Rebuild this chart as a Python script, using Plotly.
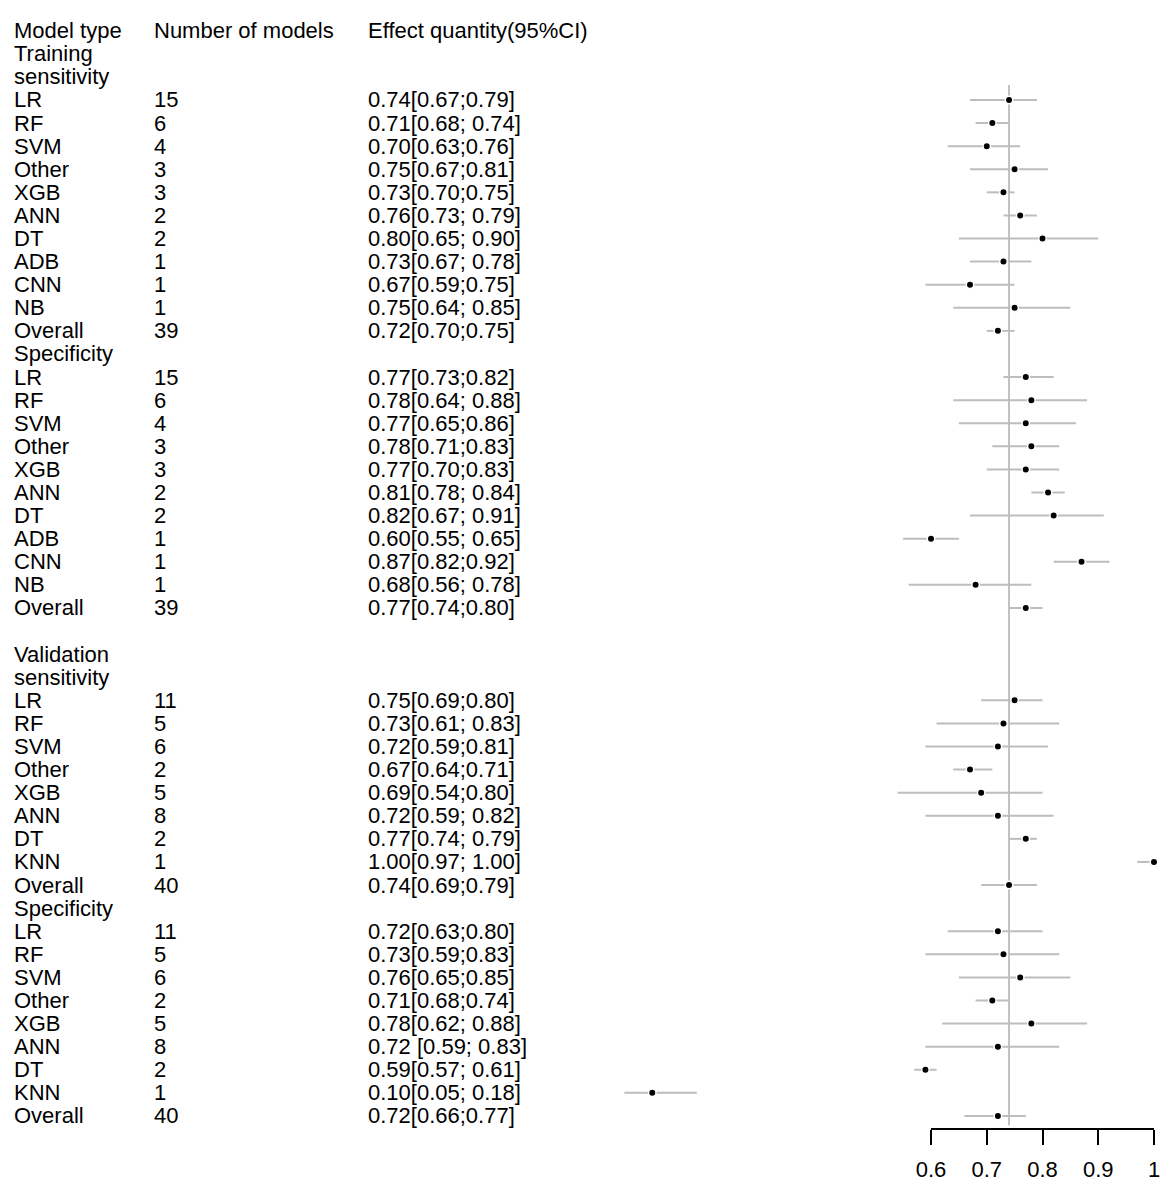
"""
Forest plot - pooled sensitivity / specificity by model type
(training and validation sets), Plotly re-draw.
"""

import plotly.graph_objects as go

# --- Data ---
TRAIN_MODELS = ["LR", "RF", "SVM", "Other", "XGB", "ANN", "DT", "ADB", "CNN", "NB", "Overall"]
TRAIN_N = [15, 6, 4, 3, 3, 2, 2, 1, 1, 1, 39]

TRAIN_SENS_EST = [0.74, 0.71, 0.70, 0.75, 0.73, 0.76, 0.80, 0.73, 0.67, 0.75, 0.72]
TRAIN_SENS_LO = [0.67, 0.68, 0.63, 0.67, 0.70, 0.73, 0.65, 0.67, 0.59, 0.64, 0.70]
TRAIN_SENS_HI = [0.79, 0.74, 0.76, 0.81, 0.75, 0.79, 0.90, 0.78, 0.75, 0.85, 0.75]
TRAIN_SENS_LABEL = ["0.74[0.67;0.79]", "0.71[0.68; 0.74]", "0.70[0.63;0.76]", "0.75[0.67;0.81]",
                    "0.73[0.70;0.75]", "0.76[0.73; 0.79]", "0.80[0.65; 0.90]", "0.73[0.67; 0.78]",
                    "0.67[0.59;0.75]", "0.75[0.64; 0.85]", "0.72[0.70;0.75]"]

TRAIN_SPEC_EST = [0.77, 0.78, 0.77, 0.78, 0.77, 0.81, 0.82, 0.60, 0.87, 0.68, 0.77]
TRAIN_SPEC_LO = [0.73, 0.64, 0.65, 0.71, 0.70, 0.78, 0.67, 0.55, 0.82, 0.56, 0.74]
TRAIN_SPEC_HI = [0.82, 0.88, 0.86, 0.83, 0.83, 0.84, 0.91, 0.65, 0.92, 0.78, 0.80]
TRAIN_SPEC_LABEL = ["0.77[0.73;0.82]", "0.78[0.64; 0.88]", "0.77[0.65;0.86]", "0.78[0.71;0.83]",
                    "0.77[0.70;0.83]", "0.81[0.78; 0.84]", "0.82[0.67; 0.91]", "0.60[0.55; 0.65]",
                    "0.87[0.82;0.92]", "0.68[0.56; 0.78]", "0.77[0.74;0.80]"]

VALID_MODELS = ["LR", "RF", "SVM", "Other", "XGB", "ANN", "DT", "KNN", "Overall"]
VALID_N = [11, 5, 6, 2, 5, 8, 2, 1, 40]

VALID_SENS_EST = [0.75, 0.73, 0.72, 0.67, 0.69, 0.72, 0.77, 1.00, 0.74]
VALID_SENS_LO = [0.69, 0.61, 0.59, 0.64, 0.54, 0.59, 0.74, 0.97, 0.69]
VALID_SENS_HI = [0.80, 0.83, 0.81, 0.71, 0.80, 0.82, 0.79, 1.00, 0.79]
VALID_SENS_LABEL = ["0.75[0.69;0.80]", "0.73[0.61; 0.83]", "0.72[0.59;0.81]", "0.67[0.64;0.71]",
                    "0.69[0.54;0.80]", "0.72[0.59; 0.82]", "0.77[0.74; 0.79]", "1.00[0.97; 1.00]",
                    "0.74[0.69;0.79]"]

VALID_SPEC_EST = [0.72, 0.73, 0.76, 0.71, 0.78, 0.72, 0.59, 0.10, 0.72]
VALID_SPEC_LO = [0.63, 0.59, 0.65, 0.68, 0.62, 0.59, 0.57, 0.05, 0.66]
VALID_SPEC_HI = [0.80, 0.83, 0.85, 0.74, 0.88, 0.83, 0.61, 0.18, 0.77]
VALID_SPEC_LABEL = ["0.72[0.63;0.80]", "0.73[0.59;0.83]", "0.76[0.65;0.85]", "0.71[0.68;0.74]",
                    "0.78[0.62; 0.88]", "0.72 [0.59; 0.83]", "0.59[0.57; 0.61]", "0.10[0.05; 0.18]",
                    "0.72[0.66;0.77]"]

HEADERS = ["Model type", "Number of models", "Effect quantity(95%CI)"]
REF_VALUE = 0.74
TICKS = [0.6, 0.7, 0.8, 0.9, 1.0]

# --- Layout of rows (heading lines, blank rows, data rows) ---
sections = [
    (["Training", "sensitivity"], TRAIN_MODELS, TRAIN_N, TRAIN_SENS_EST, TRAIN_SENS_LO, TRAIN_SENS_HI, TRAIN_SENS_LABEL, False),
    (["Specificity"], TRAIN_MODELS, TRAIN_N, TRAIN_SPEC_EST, TRAIN_SPEC_LO, TRAIN_SPEC_HI, TRAIN_SPEC_LABEL, False),
    (["Validation", "sensitivity"], VALID_MODELS, VALID_N, VALID_SENS_EST, VALID_SENS_LO, VALID_SENS_HI, VALID_SENS_LABEL, True),
    (["Specificity"], VALID_MODELS, VALID_N, VALID_SPEC_EST, VALID_SPEC_LO, VALID_SPEC_HI, VALID_SPEC_LABEL, False),
]

text_rows = []      # (row, col, text)
pts = []            # (row, est, lo, hi)
row = 1
for head, models, ns, est, lo, hi, labels, gap in sections:
    if gap:
        row += 1
    for h in head:
        text_rows.append((row, 0, h))
        row += 1
    for m, n, e, l, u, lab in zip(models, ns, est, lo, hi, labels):
        text_rows.append((row, 0, m))
        text_rows.append((row, 1, str(n)))
        text_rows.append((row, 2, lab))
        pts.append((row, e, l, u))
        row += 1
last_row = row - 1

# --- Geometry (page pixels; the figure sits 8px in from the page corner) ---
OFF = 8
W, H = 1170 - 2 * OFF, 1190 - 2 * OFF
PX_PER_UNIT = 557.5
PX_AT_06 = 931 - OFF
X0 = 0.6 - PX_AT_06 / PX_PER_UNIT
X1 = X0 + W / PX_PER_UNIT
ROW_H = 23.09
ROW0_PX = 30.7 - OFF
AXIS_PX = 1128 - OFF
Y_TOP = -ROW0_PX / ROW_H
Y_BOT = (AXIS_PX - ROW0_PX) / ROW_H
COL_PX = [12 - OFF, 152 - OFF, 366 - OFF]
FONT = dict(family="Liberation Sans, Arial, sans-serif", size=22, color="black")


def frac(v):
    return (v - X0) / (X1 - X0)


# --- Plot ---
fig = go.Figure()

ci_x, ci_y = [], []
for r, e, l, u in pts:
    ci_x += [l, u, None]
    ci_y += [r, r, None]
fig.add_trace(go.Scatter(x=ci_x, y=ci_y, mode="lines",
    line=dict(color="#bdbdbd", width=2), showlegend=False, hoverinfo="skip"))
fig.add_trace(go.Scatter(x=[p[1] for p in pts], y=[p[0] for p in pts], mode="markers",
    marker=dict(color="black", size=7.5, line=dict(color="white", width=1.5)),
    showlegend=False, hoverinfo="skip", cliponaxis=False))

# dummy trace for the bottom scale
fig.add_trace(go.Scatter(x=[TICKS[0], TICKS[-1]], y=[None, None], xaxis="x3", yaxis="y",
    mode="markers", showlegend=False, hoverinfo="skip"))

fig.add_shape(type="line", xref="x", yref="y", x0=REF_VALUE, x1=REF_VALUE,
    y0=pts[0][0] - 0.65, y1=last_row + 0.4, line=dict(color="#bababa", width=1.8), layer="below")

for i, h in enumerate(HEADERS):
    fig.add_annotation(x=COL_PX[i] / W, y=0, xref="paper", yref="y", text=h,
        showarrow=False, xanchor="left", yanchor="middle", font=FONT)
for r, c, t in text_rows:
    fig.add_annotation(x=COL_PX[c] / W, y=r, xref="paper", yref="y", text=t,
        showarrow=False, xanchor="left", yanchor="middle", font=FONT)

fig.update_layout(
    width=W, height=H, plot_bgcolor="rgba(0,0,0,0)", paper_bgcolor="white",
    margin=dict(l=0, r=0, t=0, b=H - AXIS_PX, autoexpand=False),
    xaxis=dict(range=[X0, X1], visible=False, domain=[0, 1]),
    yaxis=dict(range=[Y_BOT, Y_TOP], visible=False),
    xaxis3=dict(domain=[frac(TICKS[0]), frac(TICKS[-1])], range=[TICKS[0], TICKS[-1]],
        anchor="y", showline=True, linecolor="black", linewidth=2, ticks="outside",
        ticklen=15, tickwidth=2, tickcolor="black", tickvals=TICKS,
        ticktext=["0.6", "0.7", "0.8", "0.9", "1"], showgrid=False, zeroline=False,
        tickfont=FONT, ticklabelstandoff=6),
)

fig.write_html("out.html")
